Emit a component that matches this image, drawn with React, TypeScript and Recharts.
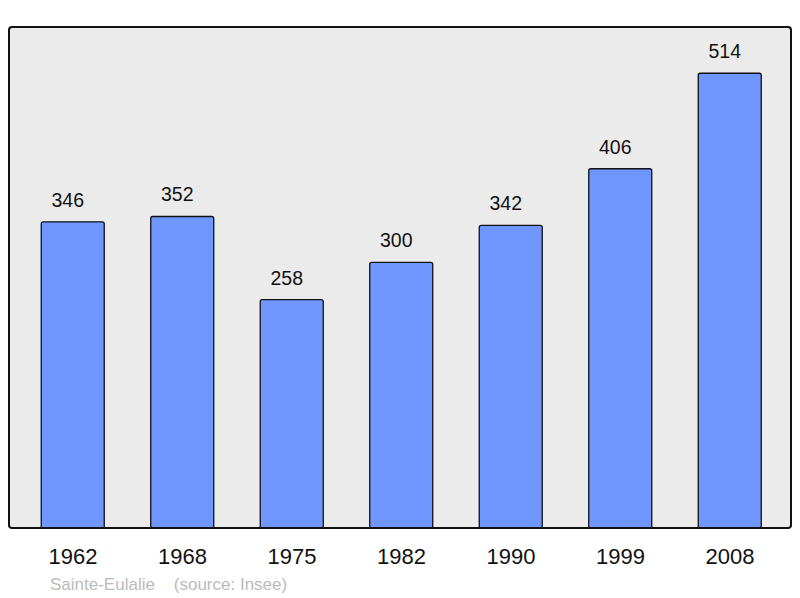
import React from 'react';
import { Bar, BarChart, LabelList, XAxis, YAxis } from 'recharts';

// Population of Sainte-Eulalie by census year
const years = ['1962', '1968', '1975', '1982', '1990', '1999', '2008'];
const population = [346, 352, 258, 300, 342, 406, 514];

const data = years.map((year, i) => ({ year, population: population[i] }));

const FONT = '"Liberation Sans", Arial, sans-serif';

export default function App() {
  return (
    <div style={{ position: 'relative', width: 784, height: 590, fontFamily: FONT }}>
      {/* plot frame */}
      <div
        style={{
          position: 'absolute',
          left: -0.5,
          top: 18,
          width: 784.5,
          height: 503,
          boxSizing: 'border-box',
          border: '2px solid #111',
          borderRadius: 4,
          background: '#ebebeb',
        }}
      />
      <BarChart
        width={784}
        height={590}
        data={data}
        margin={{ top: 19.3, right: 1.5, left: 1, bottom: 40.3 }}
        style={{ position: 'absolute', left: 0, top: 0 }}
      >
        <XAxis
          dataKey="year"
          height={30}
          axisLine={false}
          tickLine={false}
          tickSize={0}
          tickMargin={20.6}
          padding={{ left: 9.25, right: 5.75 }}
          tick={{ fontSize: 22, fill: '#111', fontFamily: FONT }}
          interval={0}
        />
        <YAxis hide domain={[0, 566]} />
        <Bar
          dataKey="population"
          fill="#7096ff"
          stroke="#111"
          strokeWidth={1.3}
          barSize={63}
          radius={[2, 2, 0, 0]}
          isAnimationActive={false}
        >
          <LabelList
            dataKey="population"
            position="top"
            offset={15}
            dx={-5}
            fontSize={19.5}
            fill="#111"
            fontFamily={FONT}
          />
        </Bar>
      </BarChart>
      <div
        style={{
          position: 'absolute',
          left: 42,
          top: 567.6,
          fontSize: 17,
          lineHeight: '17px',
          color: '#bbbbbb',
          whiteSpace: 'pre',
        }}
      >
        {'Sainte-Eulalie    (source: Insee)'}
      </div>
    </div>
  );
}
